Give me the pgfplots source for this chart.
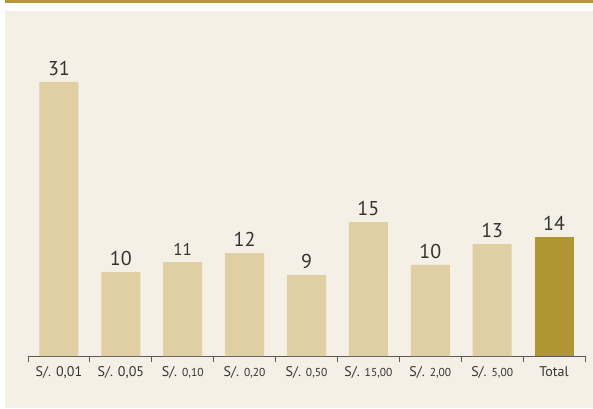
\documentclass[border=0pt]{standalone}
\usepackage{pgfplots}
\pgfplotsset{compat=1.18}
\usepackage{fontspec}
\setmainfont{PT Sans}
\definecolor{bgbeige}{HTML}{F5F0E5}
\definecolor{goldline}{HTML}{B5973A}
\definecolor{barlight}{HTML}{E0CFA2}
\definecolor{bardark}{HTML}{B09535}
\definecolor{axisgray}{HTML}{5A5A5A}
\definecolor{txt}{HTML}{333333}
\newcommand{\sm}[1]{{\fontsize{11.5pt}{13pt}\selectfont #1}}
\begin{document}
\begin{tikzpicture}[x=1pt,y=1pt]
\path (0,0) rectangle (593,408);
\fill[bgbeige] (5,0) rectangle (593,397);
\fill[goldline] (5,405) rectangle (593,408);
\begin{axis}[
    at={(28pt,52pt)}, anchor=south west,
    scale only axis,
    width=557pt, height=300pt,
    xmin=-0.5, xmax=8.5,
    ymin=0, ymax=33.94,
    axis y line=none,
    axis x line*=bottom,
    x axis line style={axisgray, line width=0.8pt, -},
    xtick={0,...,8},
    major tick length=0pt,
    minor xtick={-0.5,0.5,...,8.5},
    minor tick length=6pt,
    tick align=outside,
    minor tick style={axisgray, line width=0.8pt},
    xticklabels={{S/. 0,01},{S/. 0,05},{S/. \sm{0,10}},{S/. \sm{0,20}},{S/. \sm{0,50}},{S/. \sm{15,00}},{S/. \sm{2,00}},{S/. \sm{5,00}},{Total}},
    xticklabel style={font=\fontsize{14pt}{16pt}\selectfont, text=txt, yshift=-7pt},
    ybar, bar width=39pt, bar shift=0pt,
    point meta=explicit symbolic,
    nodes near coords,
    every node near coord/.append style={font=\fontsize{20pt}{22pt}\selectfont, text=txt, yshift=3pt},
    clip=false,
]
\addplot[fill=barlight, draw=none] coordinates {
    (0,31) [31]
    (1,9.5) [10]
    (2,10.63) [{\fontsize{17pt}{19pt}\selectfont 11}]
    (3,11.65) [12]
    (4,9.16) [9]
    (5,15.16) [15]
    (6,10.3) [10]
    (7,12.67) [13]
};
\addplot[fill=bardark, draw=none] coordinates {
    (8,13.46) [14]
};
\end{axis}
\end{tikzpicture}
\end{document}
